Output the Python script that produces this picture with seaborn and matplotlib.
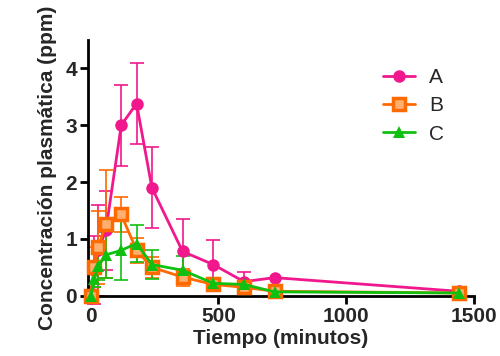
import matplotlib
matplotlib.use("Agg")
import matplotlib.pyplot as plt
from matplotlib.lines import Line2D
import numpy as np
import pandas as pd
import seaborn as sns

# Tiempos de muestreo (minutos)
tiempo = [0, 15, 30, 60, 120, 180, 240, 360, 480, 600, 720, 1440]

conc_a = [0.0, 0.45, 0.80, 1.15, 3.00, 3.38, 1.90, 0.78, 0.55, 0.25, 0.32, 0.08]
err_a = [0.0, 0.60, 0.80, 0.70, 0.71, 0.71, 0.71, 0.57, 0.43, 0.17, 0.0, 0.0]

conc_b = [0.0, 0.50, 0.85, 1.27, 1.43, 0.80, 0.50, 0.33, 0.20, 0.15, 0.08, 0.05]
err_b = [0.0, 0.35, 0.65, 0.95, 0.30, 0.22, 0.18, 0.15, 0.08, 0.05, 0.0, 0.0]

conc_c = [0.0, 0.30, 0.52, 0.72, 0.80, 0.92, 0.55, 0.45, 0.22, 0.20, 0.07, 0.05]
err_c = [0.0, 0.15, 0.25, 0.40, 0.52, 0.33, 0.25, 0.25, 0.10, 0.06, 0.0, 0.0]

grupos = ["A", "B", "C"]
colores = {"A": "#F0188C", "B": "#FF6A00", "C": "#10C010"}
marcadores = {"A": "o", "B": "s", "C": "^"}

df = pd.DataFrame({
    "tiempo": tiempo * 3,
    "conc": conc_a + conc_b + conc_c,
    "err": err_a + err_b + err_c,
    "grupo": [g for g in grupos for _ in tiempo],
})

sns.set_style("ticks")
plt.rcParams["font.family"] = ["Liberation Sans", "DejaVu Sans"]

fig = plt.figure(figsize=(5.0, 3.56), dpi=100)
ax = fig.add_axes([0.176, 0.169, 0.772, 0.719])

# barras de error detrás de las líneas
for g in grupos:
    sub = df[df["grupo"] == g]
    ax.errorbar(sub["tiempo"], sub["conc"], yerr=sub["err"], fmt="none",
                ecolor=colores[g], elinewidth=1.2, capsize=5, capthick=1.2, zorder=2)

sns.lineplot(data=df, x="tiempo", y="conc", hue="grupo", style="grupo",
             palette=colores, markers=marcadores, dashes=False,
             linewidth=2, markersize=9, markeredgewidth=0,
             ax=ax, legend=False, zorder=3)

for ln, g in zip(ax.get_lines()[-3:], grupos):
    if g == "B":
        ln.set_markerfacecolor("#FFB070")
        ln.set_markeredgecolor(colores[g])
        ln.set_markeredgewidth(2.5)
        ln.set_markersize(8)

handles = []
for g in grupos:
    kw = dict(color=colores[g], marker=marcadores[g], linewidth=2, markersize=9)
    if g == "B":
        kw.update(markerfacecolor="#FFB070", markeredgecolor=colores[g],
                  markeredgewidth=2.5, markersize=8)
    else:
        kw.update(markeredgewidth=0)
    handles.append(Line2D([0], [0], **kw))
ax.legend(handles, grupos, loc="upper left", bbox_to_anchor=(0.765, 0.89),
          frameon=False, fontsize=15, handlelength=1.5, labelspacing=0.45,
          handletextpad=0.7, borderpad=0, borderaxespad=0)

ax.set_xlim(-10, 1500)
ax.set_ylim(0, 4.5)
ax.set_xticks([0, 500, 1000, 1500])
ax.set_yticks([0, 1, 2, 3, 4])
ax.set_xlabel("Tiempo (minutos)", fontsize=15, fontweight="bold", labelpad=2)
ax.set_ylabel("Concentración plasmática (ppm)", fontsize=15, fontweight="bold", labelpad=6)
for lab in ax.get_xticklabels() + ax.get_yticklabels():
    lab.set_fontweight("bold")
ax.tick_params(labelsize=15, width=2, length=6, color="black", pad=2)
for s in ["left", "bottom"]:
    ax.spines[s].set_linewidth(2)
    ax.spines[s].set_color("black")
sns.despine(ax=ax)
for ln in ax.get_lines():
    ln.set_clip_on(False)

fig.savefig("out.png", dpi=100)
